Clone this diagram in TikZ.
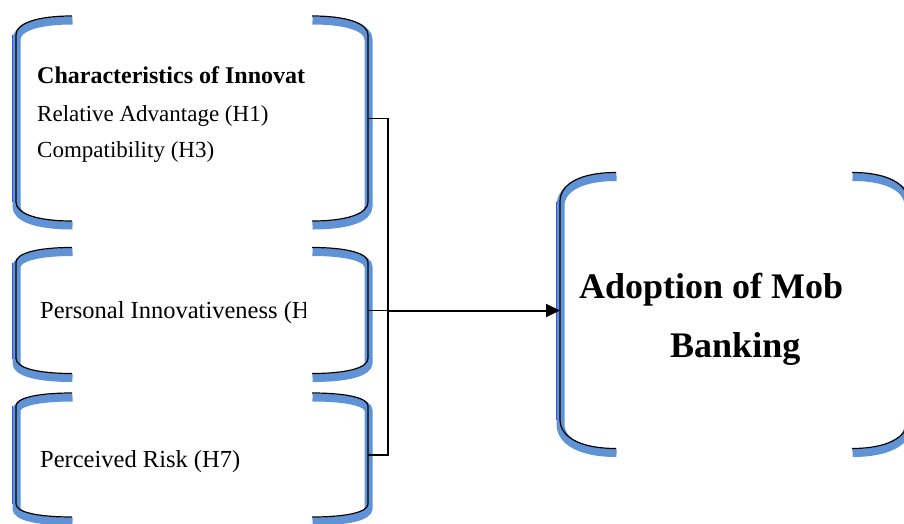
\documentclass[tikz,border=0pt]{standalone}
\usepackage{fontspec}
\setmainfont{Liberation Serif}
\usetikzlibrary{calc,arrows.meta}
\definecolor{shadeblue}{RGB}{96,146,214}
\definecolor{edgeblue}{RGB}{40,50,255}

\begin{document}
\begin{tikzpicture}[x=1pt,y=-1pt,
    frame/.style={inner sep=0pt, outer sep=0pt},
    bracket/.style={draw=black, line width=1.2pt,
      preaction={draw=shadeblue, line width=8pt, transform canvas={shift={(0.5pt,-4.5pt)}}}},
    txt/.style={inner sep=0pt, anchor=base west, font=\fontsize{23}{27}\selectfont},
    bigtxt/.style={inner sep=0pt, anchor=base west, font=\fontsize{24.5}{29}\selectfont},
    big/.style={inner sep=0pt, anchor=base west, font=\fontsize{36}{42}\selectfont\bfseries},
    link/.style={draw=black, line width=1.3pt},
    flow/.style={draw=black, line width=2pt, -{Triangle[length=14pt,width=13pt]}}]
  \clip (0,0) rectangle (904,523);

  % the four bracket boxes
  \node[frame, minimum width=352pt, minimum height=205pt] (chr) at (192,118.5) {};
  \node[frame, minimum width=352pt, minimum height=126pt] (pin) at (192,310.5) {};
  \node[frame, minimum width=352pt, minimum height=124pt] (risk) at (192,455) {};
  \node[frame, minimum width=348pt, minimum height=276pt] (adopt) at (734,310.5) {};

  \foreach \bx/\c in {chr/19,pin/15,risk/13,adopt/29}{
    \draw[edgeblue, line width=1pt] let \p1=(\bx.north west), \p2=(\bx.south east) in
      (\x1-3.5pt,\y1-\c pt) -- (\x1-3.5pt,\y2+\c pt);
    \draw[bracket] let \p1=(\bx.north west), \p2=(\bx.south east) in
      (\x1+56pt,\y1) .. controls (\x1+20pt,\y1) and (\x1,\y1-0.4*\c pt) .. (\x1,\y1-\c pt)
      -- (\x1,\y2+\c pt) .. controls (\x1,\y2+0.4*\c pt) and (\x1+20pt,\y2) .. (\x1+56pt,\y2)
      (\x2-56pt,\y1) .. controls (\x2-20pt,\y1) and (\x2,\y1-0.4*\c pt) .. (\x2,\y1-\c pt)
      -- (\x2,\y2+\c pt) .. controls (\x2,\y2+0.4*\c pt) and (\x2-20pt,\y2) .. (\x2-56pt,\y2);
  }

  % texts, cut at the box edge
  \begin{scope}
    \clip (20,30) rectangle (305,500);
    \node[txt, font=\fontsize{24}{28}\selectfont\bfseries] (chrhead) at (37,83) {Characteristics of Innovat};
    \node[txt] (rel) at (37,121) {Relative Advantage (H1)};
    \node[txt] (comp) at (37,157) {Compatibility (H3)};
    \node[bigtxt] (pintext) at (40,318) {Personal Innovativeness (H};
    \node[bigtxt] (risktext) at (40,467) {Perceived Risk (H7)};
  \end{scope}
  \begin{scope}
    \clip (565,200) rectangle (845,400);
    \node[big] (adopthead) at (579,298) {Adoption of Mob};
    \node[big] (bank) at (670,357) {Banking};
  \end{scope}

  % connectors
  \draw[link] (chr.east) -- ++(20pt,0pt) |- (risk.east);
  \draw[link] (pin.east) -- ++(20pt,0pt) coordinate (hub);
  \draw[flow] (hub) -- (hub -| adopt.west);
\end{tikzpicture}
\end{document}
